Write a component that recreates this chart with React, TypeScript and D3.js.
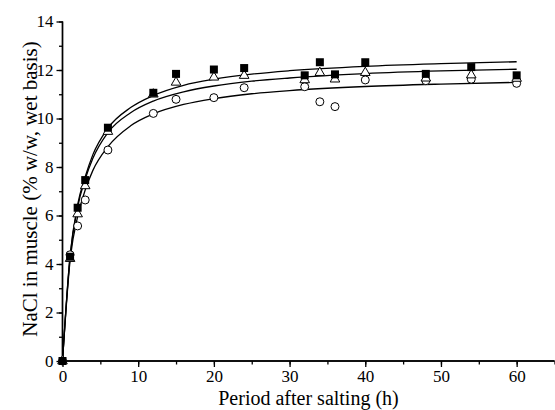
import React, { useEffect, useRef } from "react";
import * as d3 from "d3";

// Observed data (hours after salting, NaCl %)
const hours = [0, 1, 2, 3, 6, 12, 15, 20, 24, 32, 34, 36, 40, 48, 54, 60];
const squares = [0, 4.3, 6.32, 7.46, 9.62, 11.06, 11.84, 12.02, 12.08, 11.78, 12.32, 11.82, 12.32, 11.84, 12.12, 11.78];
const triangles = [0, 4.22, 6.06, 7.22, 9.46, 11.0, 11.49, 11.7, 11.77, 11.59, 11.89, 11.62, 11.89, 11.66, 11.79, 11.65];
const circles = [0, 4.38, 5.57, 6.64, 8.7, 10.21, 10.79, 10.86, 11.27, 11.31, 10.69, 10.49, 11.59, 11.56, 11.62, 11.45];

// Fitted curves
const fitHours = [0, 1, 2, 3, 4, 6, 9, 12, 16, 20, 25, 30, 40, 50, 60];
const fitTop = [0, 4.34, 6.45, 7.6, 8.5, 9.6, 10.45, 10.95, 11.37, 11.62, 11.83, 11.97, 12.15, 12.26, 12.34];
const fitMid = [0, 4.3, 6.35, 7.5, 8.35, 9.42, 10.24, 10.72, 11.1, 11.34, 11.54, 11.67, 11.85, 11.96, 12.03];
const fitLow = [0, 4.15, 5.95, 7.05, 7.85, 8.84, 9.7, 10.19, 10.58, 10.82, 11.02, 11.15, 11.32, 11.42, 11.49];

const xMajor = [0, 10, 20, 30, 40, 50, 60];
const yMajor = [0, 2, 4, 6, 8, 10, 12, 14];

const W = 555;
const H = 410;
const FONT = "'Liberation Serif', 'Times New Roman', serif";

export default function App() {
  const ref = useRef<SVGSVGElement>(null);

  useEffect(() => {
    const svg = d3.select(ref.current);
    svg.selectAll("*").remove();

    const x = d3.scaleLinear().domain([0, 65]).range([62.5, 554.5]);
    const y = d3.scaleLinear().domain([0, 14]).range([361, 21.5]);

    // Axes
    const xAxisMinor = d3.axisBottom(x).tickValues(d3.range(0, 66, 5)).tickSize(3.5).tickFormat(() => "");
    const xAxis = d3.axisBottom(x).tickValues(xMajor).tickSize(6).tickPadding(3).tickFormat(d3.format("d"));
    const yAxisMinor = d3.axisLeft(y).tickValues(d3.range(0, 15, 1)).tickSize(3.5).tickFormat(() => "");
    const yAxis = d3.axisLeft(y).tickValues(yMajor).tickSize(6).tickPadding(3).tickFormat(d3.format("d"));

    const gxm = svg.append("g").attr("transform", `translate(0,${y(0)})`).call(xAxisMinor);
    const gx = svg.append("g").attr("transform", `translate(0,${y(0)})`).call(xAxis);
    const gym = svg.append("g").attr("transform", `translate(${x(0)},0)`).call(yAxisMinor);
    const gy = svg.append("g").attr("transform", `translate(${x(0)},0)`).call(yAxis);

    [gxm, gx, gym, gy].forEach((g) => {
      g.selectAll("path.domain").attr("stroke", "#000").attr("stroke-width", 1.4);
      g.selectAll(".tick line").attr("stroke", "#000").attr("stroke-width", 1.3);
      g.selectAll("text")
        .attr("font-family", FONT)
        .attr("font-size", 17)
        .attr("fill", "#000");
    });
    gxm.select("path.domain").attr("d", `M${x(0)},0H${x(65)}`);
    gx.select("path.domain").attr("d", `M${x(0)},0H${x(65)}`);
    gym.select("path.domain").attr("d", `M0,${y(0)}V${y(14)}`);
    gy.select("path.domain").attr("d", `M0,${y(0)}V${y(14)}`);

    // Curves
    const line = d3
      .line<[number, number]>()
      .x((d) => x(d[0]))
      .y((d) => y(d[1]))
      .curve(d3.curveMonotoneX);
    [fitTop, fitMid, fitLow].forEach((vals) => {
      svg
        .append("path")
        .attr("d", line(fitHours.map((t, i) => [t, vals[i]] as [number, number])))
        .attr("fill", "none")
        .attr("stroke", "#000")
        .attr("stroke-width", 1.3);
    });

    // Markers: circles, triangles, squares
    svg
      .append("g")
      .selectAll("circle")
      .data(hours.map((t, i) => [t, circles[i]]))
      .join("circle")
      .attr("cx", (d) => x(d[0]))
      .attr("cy", (d) => y(d[1]))
      .attr("r", 4)
      .attr("fill", "#fff")
      .attr("stroke", "#000")
      .attr("stroke-width", 1);

    const tri = d3.symbol().type(d3.symbolTriangle).size(40);
    svg
      .append("g")
      .selectAll("path")
      .data(hours.map((t, i) => [t, triangles[i]]))
      .join("path")
      .attr("d", tri() as string)
      .attr("transform", (d) => `translate(${x(d[0])},${y(d[1])})`)
      .attr("fill", "#fff")
      .attr("stroke", "#000")
      .attr("stroke-width", 1);

    svg
      .append("g")
      .selectAll("rect")
      .data(hours.map((t, i) => [t, squares[i]]))
      .join("rect")
      .attr("x", (d) => x(d[0]) - 4)
      .attr("y", (d) => y(d[1]) - 4)
      .attr("width", 8)
      .attr("height", 8)
      .attr("fill", "#000");

    // Axis titles
    svg
      .append("text")
      .attr("x", (x(0) + x(65)) / 2)
      .attr("y", 405)
      .attr("text-anchor", "middle")
      .attr("font-family", FONT)
      .attr("font-size", 20)
      .attr("fill", "#000")
      .text("Period after salting (h)");

    svg
      .append("text")
      .attr("transform", `translate(36.5,${189}) rotate(-90)`)
      .attr("text-anchor", "middle")
      .attr("font-family", FONT)
      .attr("font-size", 21)
      .attr("fill", "#000")
      .text("NaCl in muscle (% w/w, wet basis)");
  }, []);

  return (
    <svg
      ref={ref}
      width={W}
      height={H}
      style={{ position: "absolute", left: 0, top: 0, background: "#fff" }}
    />
  );
}
